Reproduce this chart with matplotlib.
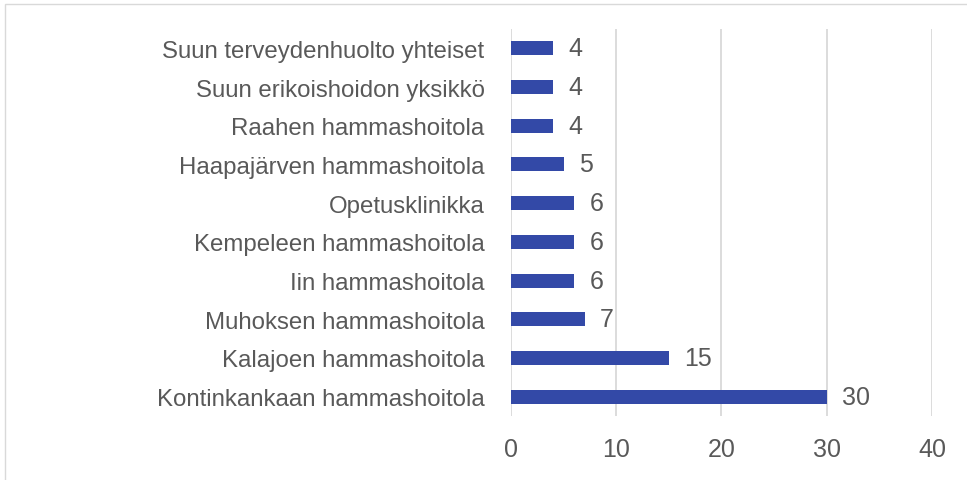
import matplotlib.pyplot as plt
from matplotlib.patches import Rectangle

plt.rcParams['font.family'] = ['Liberation Sans', 'DejaVu Sans']

categories = ['Suun terveydenhuolto yhteiset', 'Suun erikoishoidon yksikkö',
              'Raahen hammashoitola', 'Haapajärven hammashoitola',
              'Opetusklinikka', 'Kempeleen hammashoitola', 'Iin hammashoitola',
              'Muhoksen hammashoitola', 'Kalajoen hammashoitola',
              'Kontinkankaan hammashoitola']
values = [4, 4, 4, 5, 6, 6, 6, 7, 15, 30]
x_ticks = [0, 10, 20, 30, 40]

text_col = '#595959'
bar_col = '#3349A7'
grid_col = '#D9D9D9'

fig = plt.figure(figsize=(9.67, 4.81), dpi=100)
ax = fig.add_axes([0.5284, 0.1331, 0.4354, 0.8045])

y = list(range(len(categories)))
bars = ax.barh(y, values, height=0.36, color=bar_col, zorder=3)
ax.set_ylim(len(categories) - 0.5, -0.5)
ax.set_xlim(0, 40)
ax.set_xticks(x_ticks)
ax.set_yticks(y)
ax.set_yticklabels(categories)

for v, yy in zip(values, y):
    ax.annotate(str(v), (v, yy), xytext=(11, 0), textcoords='offset points',
                va='center', ha='left', fontsize=18, color=text_col)

ax.grid(axis='x', color=grid_col, linewidth=1.3, zorder=0)
for s in ax.spines.values():
    s.set_visible(False)
ax.tick_params(axis='both', length=0, colors=text_col)
ax.tick_params(axis='y', pad=19, labelsize=17.3)
ax.tick_params(axis='x', pad=15, labelsize=18)

fig.patches.append(Rectangle((5 / 967, -0.1), 1.2, 1 - 5 / 481 + 0.1,
                             transform=fig.transFigure, fill=False,
                             edgecolor=grid_col, linewidth=1))

fig.savefig('out.png', dpi=100)
